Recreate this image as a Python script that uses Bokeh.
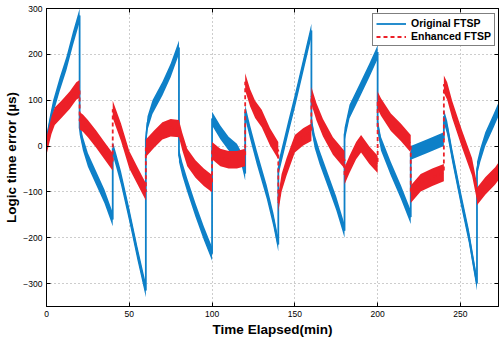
from bokeh.plotting import figure
from bokeh.models import (Range1d, Legend, LegendItem, FixedTicker, LinearAxis,
                          CustomLabelingPolicy)
from bokeh.embed import file_html
from bokeh.resources import INLINE

# ---- data (time in min, error in µs) ----
orig_t = [0, 2, 4, 8, 12, 16, 20,
          20, 22, 25, 30, 35, 40,
          40, 42, 45, 50, 55, 60,
          60, 61, 64, 70, 75, 80,
          80, 82, 85, 90, 95, 100,
          100, 105, 110, 115, 118, 120,
          120, 123, 127, 133, 137, 140,
          140, 143, 146, 150, 155, 160,
          160, 162, 165, 170, 175, 180,
          180, 183, 189, 195, 200,
          200, 202, 208, 214, 220,
          220, 230, 240,
          240, 242, 245, 250, 255, 260,
          260, 262, 265, 270, 273]
orig_v = [10, 50, 85, 135, 180, 235, 285,
          40, 5, -30, -70, -110, -160,
          -5, -30, -70, -150, -235, -315,
          15, 50, 85, 125, 165, 215,
          -20, -50, -85, -140, -190, -235,
          60, 30, 5, -10, -30, -60,
          75, 30, -25, -100, -160, -215,
          -50, -5, 40, 98, 175, 252,
          50, 10, -25, -75, -125, -185,
          25, 75, 120, 165, 205,
          45, 5, -50, -100, -155,
          -15, 0, 15,
          65, 40, -20, -110, -195, -300,
          -50, -20, 15, 55, 80]

enh_t = [0, 3, 5, 9, 14, 18, 20,
         20, 22, 25, 30, 35, 40,
         40, 42, 45, 50, 55, 60,
         60, 65, 70, 75, 80, 82, 85, 90, 95, 100,
         100, 105, 110, 115, 120,
         120, 123, 126, 130, 135, 140,
         140, 142, 145, 150, 155, 160,
         160, 163, 167, 173, 180,
         180, 183, 187, 190, 195, 200,
         200, 202, 208, 214, 220,
         220, 226, 233, 240,
         240, 242, 245, 251, 257, 260,
         260, 265, 271, 273]
enh_v = [0, 45, 65, 80, 100, 120, 125,
         55, 50, 38, 15, -10, -35,
         80, 60, 30, -30, -65, -100,
         -5, 15, 33, 40, 38, 10, -25, -50, -68, -82,
         -10, -25, -30, -30, -25,
         140, 105, 80, 60, 20, -10,
         -125, -80, -45, 5, 20, 30,
         110, 75, 40, 0, -30,
         -65, -40, -10, 5, -20, -40,
         100, 85, 52, 30, 5,
         -105, -80, -68, -58,
         135, 120, 80, 15, -45, -100,
         -110, -87, -65, -55]

orig_noise = 15   # half-width of the jitter band (µs)
enh_noise = 19

x_ticks = [0, 50, 100, 150, 200, 250]
y_ticks = [-300, -200, -100, 0, 100, 200, 300]
x_label = "Time Elapsed(min)"
y_label = "Logic time error (\u00b5s)"
names = ["Original FTSP", "Enhanced FTSP"]

BLUE = "#0e80c8"
RED = "#ec2028"
FONT = "Liberation Sans"

p = figure(width=499, height=344, x_range=Range1d(0, 273), y_range=Range1d(-350, 300),
           output_backend="svg", toolbar_location=None,
           min_border_left=46, min_border_right=1, min_border_top=8, min_border_bottom=38)
p.background_fill_color = "white"
p.border_fill_color = "white"
p.outline_line_color = "black"
p.outline_line_width = 1

# bands (noise envelope) + centre lines
p.varea(x=orig_t, y1=[v - orig_noise for v in orig_v], y2=[v + orig_noise for v in orig_v],
        fill_color=BLUE, fill_alpha=1.0)
l_orig = p.line(orig_t, orig_v, line_color=BLUE, line_width=1.8)
p.varea(x=enh_t, y1=[v - enh_noise for v in enh_v], y2=[v + enh_noise for v in enh_v],
        fill_color=RED, fill_alpha=1.0)
l_enh = p.line(enh_t, enh_v, line_color=RED, line_width=1.8, line_dash="4 3")

for ax in (p.xaxis[0], p.yaxis[0]):
    ax.major_tick_in = 4
    ax.major_tick_out = 0
    ax.minor_tick_line_color = None
    ax.axis_line_color = "black"
    ax.major_tick_line_color = "black"
    ax.major_label_text_font = FONT
    ax.major_label_text_font_size = "8.5px"
    ax.major_label_text_color = "black"
    ax.axis_label_text_font = FONT
    ax.axis_label_text_font_style = "bold"
    ax.axis_label_text_font_size = "13.5px"
    ax.axis_label_text_color = "black"
p.xaxis.ticker = FixedTicker(ticks=x_ticks)
p.yaxis.ticker = FixedTicker(ticks=y_ticks)
p.xaxis.axis_label = x_label
p.yaxis.axis_label = y_label
p.xaxis.major_label_standoff = 4
p.xaxis.axis_label_standoff = 2
p.yaxis.major_label_standoff = 4
p.yaxis.axis_label_standoff = 1

no_labels = CustomLabelingPolicy(code="for (const i of indices) indices.unset(i)")
for loc, tick in (("above", x_ticks), ("right", y_ticks)):
    a = LinearAxis(ticker=FixedTicker(ticks=tick), major_label_text_font_size="0px",
                   major_label_policy=no_labels,
                   major_label_standoff=0, major_tick_in=4, major_tick_out=0,
                   minor_tick_line_color=None, axis_line_color="black")
    p.add_layout(a, loc)

p.xgrid.ticker = FixedTicker(ticks=x_ticks)
p.ygrid.ticker = FixedTicker(ticks=y_ticks)
for g in (p.xgrid[0], p.ygrid[0]):
    g.grid_line_color = "#9a9a9a"
    g.grid_line_dash = "1 3"
    g.grid_line_width = 1

legend = Legend(items=[LegendItem(label=names[0], renderers=[l_orig]),
                       LegendItem(label=names[1], renderers=[l_enh])],
                location=(326, 260))
legend.border_line_color = "black"
legend.border_line_width = 1
legend.background_fill_color = "white"
legend.background_fill_alpha = 1
legend.label_text_font = FONT
legend.label_text_font_style = "bold"
legend.label_text_font_size = "10.5px"
legend.label_text_color = "black"
legend.glyph_width = 30
legend.glyph_height = 11
legend.label_height = 11
legend.label_standoff = 5
legend.spacing = 1
legend.padding = 3
legend.margin = 0
p.add_layout(legend)

open("out.html", "w").write(file_html(p, INLINE))
